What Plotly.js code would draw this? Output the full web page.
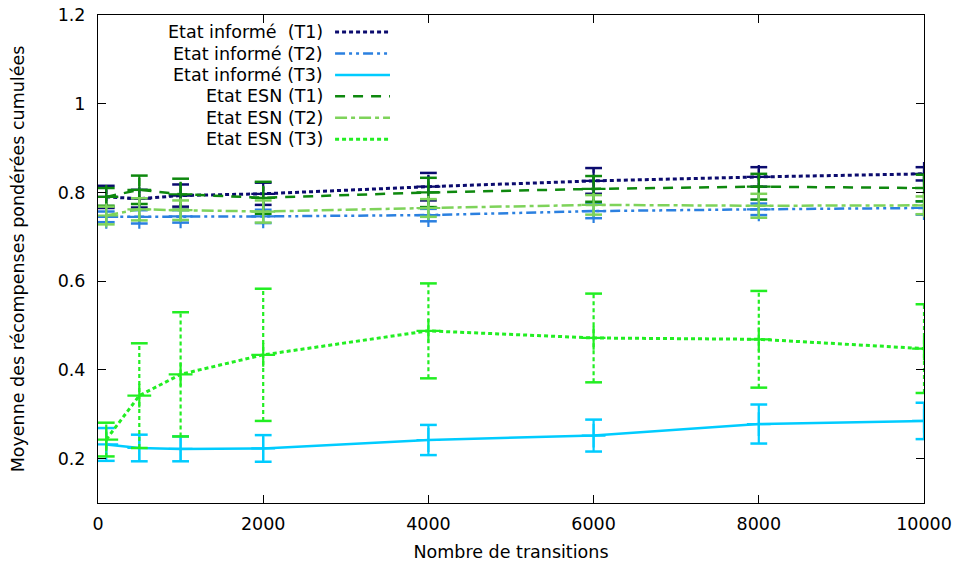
<!DOCTYPE html>
<html>
<head>
<meta charset="utf-8">
<script src="https://cdn.plot.ly/plotly-3.0.1.min.js"></script>
<style>html,body{margin:0;padding:0;background:#fff;}#chart{width:955px;height:566px;}</style>
</head>
<body>
<div id="chart"></div>
<script>
const transitions = [100, 500, 1000, 2000, 4000, 6000, 8000, 10000];

const seriesNames = [
  "Etat informé\u00a0 (T1)",
  "Etat informé (T2)",
  "Etat informé (T3)",
  "Etat ESN (T1)",
  "Etat ESN (T2)",
  "Etat ESN (T3)"
];

const informeT1 = [0.790, 0.786, 0.793, 0.797, 0.813, 0.826, 0.835, 0.842];
const informeT1Err = [0.025, 0.020, 0.025, 0.025, 0.031, 0.029, 0.022, 0.015];
const informeT2 = [0.745, 0.745, 0.746, 0.746, 0.749, 0.758, 0.762, 0.765];
const informeT2Err = [0.012, 0.015, 0.014, 0.015, 0.014, 0.016, 0.013, 0.015];
const informeT3 = [0.232, 0.224, 0.222, 0.223, 0.242, 0.252, 0.278, 0.285];
const informeT3Err = [0.037, 0.030, 0.028, 0.030, 0.034, 0.036, 0.044, 0.041];
const esnT1 = [0.790, 0.806, 0.796, 0.788, 0.800, 0.808, 0.813, 0.810];
const esnT1Err = [0.020, 0.032, 0.035, 0.036, 0.033, 0.029, 0.029, 0.030];
const esnT2 = [0.748, 0.762, 0.760, 0.757, 0.765, 0.772, 0.770, 0.771];
const esnT2Err = [0.020, 0.025, 0.022, 0.025, 0.020, 0.022, 0.027, 0.020];
const esnT3 = [0.243, 0.342, 0.390, 0.434, 0.488, 0.472, 0.469, 0.448];
const esnT3Err = [0.038, 0.118, 0.140, 0.149, 0.107, 0.100, 0.109, 0.100];

const xTicks = [0, 2000, 4000, 6000, 8000, 10000];
const yTicks = [0.2, 0.4, 0.6, 0.8, 1.0, 1.2];
const yTickLabels = ["0.2", "0.4", "0.6", "0.8", "1", "1.2"];

const values = [informeT1, informeT2, informeT3, esnT1, esnT2, esnT3];
const errors = [informeT1Err, informeT2Err, informeT3Err, esnT1Err, esnT2Err, esnT3Err];

const styles = [
  {color: "#0b0b6e", dash: "4px,3px", width: 3},
  {color: "#2b80e0", dash: "10px,4px,3px,4px,3px,4px", width: 2.5},
  {color: "#00ccff", dash: "solid", width: 2.5},
  {color: "#0e880e", dash: "10px,8px", width: 2.5},
  {color: "#7ed35a", dash: "12px,4px,4px,4px", width: 2.5},
  {color: "#22ee22", dash: "4px,3px", width: 3}
];

const FONT = "DejaVu Sans, sans-serif";
const FS = 17.5;
const traces = [];
const shapes = [];
const annotations = [];

values.forEach((vals, i) => {
  const st = styles[i];
  const ex = [], ey = [];
  transitions.forEach((x, k) => {
    ex.push(x, x, null);
    ey.push(vals[k] - errors[i][k], vals[k] + errors[i][k], null);
  });
  traces.push({
    x: ex, y: ey, mode: "lines+markers", showlegend: false, hoverinfo: "skip",
    line: {color: st.color, dash: st.dash, width: 2.2},
    marker: {symbol: "line-ew", size: 12, line: {color: st.color, width: 2.5}}
  });
  traces.push({
    x: transitions, y: vals, name: seriesNames[i], mode: "lines+markers", showlegend: false,
    line: {color: st.color, dash: st.dash, width: st.width},
    marker: {symbol: "cross-thin", size: 17, line: {color: st.color, width: 2.2}}
  });
  const yPos = 0.965 - i * 0.0439;
  annotations.push({
    xref: "paper", yref: "paper", x: 0.2748, y: yPos, xanchor: "right", yanchor: "middle",
    text: seriesNames[i], showarrow: false, font: {family: FONT, size: FS, color: "#000"}
  });
  shapes.push({
    type: "line", xref: "paper", yref: "paper", x0: 0.287, x1: 0.3535, y0: yPos, y1: yPos,
    line: {color: st.color, dash: st.dash, width: st.width}
  });
});

const layout = {
  width: 955, height: 566,
  margin: {l: 98, r: 31, t: 15, b: 63},
  paper_bgcolor: "#fff", plot_bgcolor: "#fff",
  font: {family: FONT, size: FS, color: "#000"},
  showlegend: false,
  xaxis: {
    range: [0, 10000], tickvals: xTicks, ticktext: xTicks.map(String),
    ticks: "inside", ticklen: 8, tickcolor: "#000", tickwidth: 1,
    showline: true, linecolor: "#000", linewidth: 1, mirror: "ticks",
    showgrid: false, zeroline: false, ticklabelstandoff: 5,
    tickfont: {family: FONT, size: FS},
    title: {text: "Nombre de transitions", font: {family: FONT, size: FS}, standoff: 12}
  },
  yaxis: {
    range: [0.1, 1.2], tickvals: yTicks, ticktext: yTickLabels,
    ticks: "inside", ticklen: 8, tickcolor: "#000", tickwidth: 1,
    showline: true, linecolor: "#000", linewidth: 1, mirror: "ticks",
    showgrid: false, zeroline: false, ticklabelstandoff: 8,
    tickfont: {family: FONT, size: FS},
    title: {text: "Moyenne des récompenses pondérées cumulées", font: {family: FONT, size: FS}, standoff: 28}
  },
  shapes: shapes,
  annotations: annotations
};

Plotly.newPlot("chart", traces, layout, {staticPlot: true, displayModeBar: false});
</script>
</body>
</html>
